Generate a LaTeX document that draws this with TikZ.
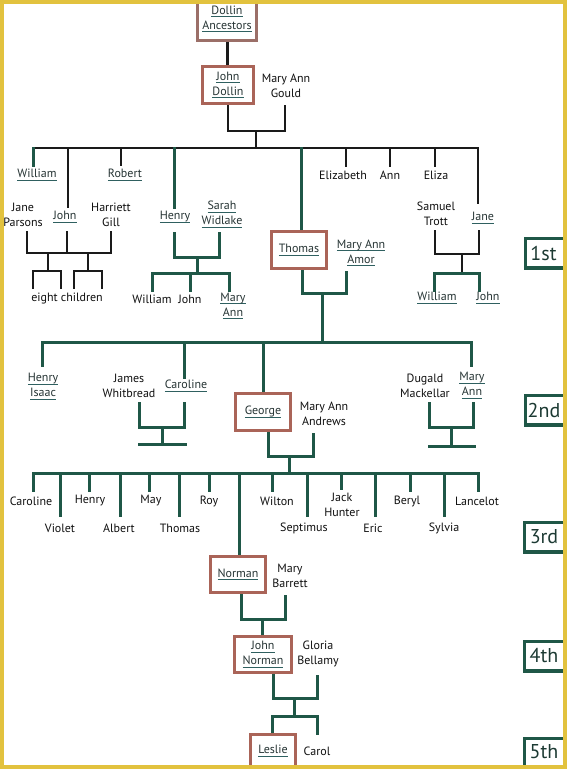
\documentclass[tikz,border=0pt]{standalone}
\usepackage{fontspec}
\setmainfont{PT Sans}
\definecolor{lblack}{HTML}{1A1A1A}
\definecolor{lgreen}{HTML}{1F5747}
\definecolor{boxc}{HTML}{AA6458}
\definecolor{boxa}{HTML}{9B6F68}
\definecolor{txt}{HTML}{101010}
\definecolor{nmtxt}{HTML}{263434}
\definecolor{ulc}{HTML}{2F6060}
\definecolor{gtxt}{HTML}{1C3A33}
\definecolor{frameyel}{HTML}{E2C23E}
\newcommand\ul[1]{\setbox0=\hbox{#1}\leavevmode\rlap{\color{ulc}\rule[-3.1pt]{\wd0}{1.1pt}}\box0}
\begin{document}
\begin{tikzpicture}[x=1pt,y=-1pt,
 blk/.style={draw=lblack,line width=2.5pt,line cap=rect},
 grn/.style={draw=lgreen,line width=3pt,line cap=rect},
 lbl/.style={font=\fontsize{12}{15}\selectfont,align=center,inner sep=0pt,text=txt},
 nm/.style={lbl,text=nmtxt},
 pbox/.style={draw=boxc,line width=3pt,fill=white,inner sep=0pt,align=center,font=\fontsize{12}{15}\selectfont,text=nmtxt},
 genfr/.style={draw=lgreen,line width=3.5pt,fill=white},
 genlbl/.style={font=\fontsize{20}{20}\selectfont,inner sep=0pt,text=gtxt}]
\useasboundingbox (0,0) rectangle (567,769);
\fill[white] (0,0) rectangle (567,769);

% ---------- level 0 lines
\draw[blk] (227.5,40) -- (227.5,65);
\draw[blk] (228,105) -- (228,131) -- (285,131) -- (285,106);
\draw[blk] (256,131) -- (256,148);
\draw[blk] (33,148) -- (478,148);
\draw[grn] (33,148) -- (33,165);
\draw[blk] (68,148) -- (68,207);
\draw[blk] (121,148) -- (121,165);
\draw[grn] (174,148) -- (174,207);
\draw[grn] (301,148) -- (301,230);
\draw[blk] (346,148) -- (346,166);
\draw[blk] (390,148) -- (390,166);
\draw[blk] (435,148) -- (435,166);
\draw[blk] (478,148) -- (478,203);

% John family
\draw[blk] (27,232) -- (27,253) -- (111,253) -- (111,232);
\draw[blk] (67,232) -- (67,253);
\draw[blk] (48,253) -- (48,271);
\draw[blk] (33,288) -- (33,271) -- (61,271) -- (61,288);
\draw[blk] (88,253) -- (88,271);
\draw[blk] (74,288) -- (74,271) -- (102,271) -- (102,288);

% Henry family
\draw[grn] (174,233) -- (174,257) -- (219,257) -- (219,233);
\draw[grn] (197,257) -- (197,273);
\draw[grn] (152,290) -- (152,273) -- (229,273) -- (229,290);
\draw[grn] (190,273) -- (190,290);

% Jane family
\draw[blk] (435,231) -- (435,254) -- (479,254) -- (479,231);
\draw[blk] (462,254) -- (462,273);
\draw[grn] (434,290) -- (434,273) -- (479,273) -- (479,290);

% Thomas couple and children
\draw[grn] (302,270) -- (302,293) -- (346,293) -- (346,272);
\draw[grn] (322,293) -- (322,342);
\draw[grn] (42,342) -- (471,342);
\draw[grn] (42,342) -- (42,365);
\draw[grn] (184,342) -- (184,377);
\draw[grn] (263,342) -- (263,392);
\draw[grn] (471,342) -- (471,365);
\draw[grn] (139,403) -- (139,427) -- (184,427) -- (184,403);
\draw[grn] (162,427) -- (162,444);
\draw[grn] (139,444) -- (185,444);
\draw[grn] (429,403) -- (429,427) -- (473,427) -- (473,403);
\draw[grn] (451,427) -- (451,446);
\draw[grn] (429,446) -- (474,446);

% George couple and children
\draw[grn] (268,432) -- (268,456) -- (313,456) -- (313,434);
\draw[grn] (289,456) -- (289,473);
\draw[grn] (33,473) -- (478,473);
\foreach \x in {33,89,149,209,272,410,478} \draw[grn] (\x,473) -- (\x,490);
\draw[grn] (341,473) -- (341,488);
\foreach \x in {60,120,179,307,375,444} \draw[grn] (\x,473) -- (\x,515);
\draw[grn] (239,473) -- (239,555);

% Norman
\draw[grn] (241,594) -- (241,619) -- (285,619) -- (285,596);
\draw[grn] (262,619) -- (262,635);
% John Norman
\draw[grn] (273,674) -- (273,698) -- (317,698) -- (317,676);
\draw[grn] (294,698) -- (294,716);
\draw[grn] (272,733) -- (272,716) -- (317,716) -- (317,733);

% ---------- boxes
\node[pbox,draw=boxa,minimum width=59pt,minimum height=42pt] (anc) at (227,19) {\ul{Dollin}\\\ul{Ancestors}};
\node[pbox,minimum width=51pt,minimum height=37pt] (jdol) at (228,85) {\ul{John}\\\ul{Dollin}};
\node[pbox,minimum width=55pt,minimum height=37pt] (thomas) at (299,250) {\ul{Thomas}};
\node[pbox,minimum width=55pt,minimum height=37pt] (george) at (263,412) {\ul{George}};
\node[pbox,minimum width=55pt,minimum height=36pt] (norman) at (238,574.5) {\ul{Norman}};
\node[pbox,minimum width=57pt,minimum height=36pt] (jnorm) at (263,654.5) {\ul{John}\\\ul{Norman}};
\node[pbox,minimum width=45pt,minimum height=40pt] (leslie) at (273,754) {};
\node[nm] (lesliet) at (273,751) {\ul{Leslie}};

% ---------- labels level 0/1
\node[lbl] (mag) at (286,85.5) {Mary Ann\\Gould};
\node[nm] (william1) at (37,175) {\ul{William}};
\node[nm] (robert) at (125,175) {\ul{Robert}};
\node[lbl] (eliz) at (343,175) {Elizabeth};
\node[lbl] (ann) at (390,175.5) {Ann};
\node[lbl] (eliza) at (436,175) {Eliza};
\node[lbl] (janep) at (23,214.5) {Jane\\Parsons};
\node[nm] (john1) at (65,217) {\ul{John}};
\node[lbl] (harr) at (111,214.5) {Harriett\\Gill};
\node[nm] (henry1) at (175,217) {\ul{Henry}};
\node[nm] (sarah) at (222,214.5) {\ul{Sarah}\\\ul{Widlake}};
\node[lbl] (samuel) at (436,213.5) {Samuel\\Trott};
\node[nm] (jane) at (483,218) {\ul{Jane}};
\node[nm] (maam) at (361,253) {\ul{Mary Ann}\\\ul{Amor}};
\node[lbl] (eight) at (67,299) {eight children};
\node[lbl] (williamh) at (152,299) {William};
\node[lbl] (johnh) at (190,299) {John};
\node[nm] (maryannh) at (233,306) {\ul{Mary}\\\ul{Ann}};
\node[nm] (williamj) at (437,298) {\ul{William}};
\node[nm] (johnj) at (488,298) {\ul{John}};

% level 2
\node[nm] (henryi) at (43,386.5) {\ul{Henry}\\\ul{Isaac}};
\node[lbl] (james) at (129,385.5) {James\\Whitbread};
\node[nm] (caroline2) at (186,386) {\ul{Caroline}};
\node[lbl] (maandr) at (324,414) {Mary Ann\\Andrews};
\node[lbl] (dugald) at (425,385.5) {Dugald\\Mackellar};
\node[nm] (maryann2) at (472,385.5) {\ul{Mary}\\\ul{Ann}};

% level 3
\node[lbl] (caroline3) at (31,501) {Caroline};
\node[lbl] (henry3) at (90,501) {Henry};
\node[lbl] (may) at (151,501) {May};
\node[lbl] (roy) at (209,501) {Roy};
\node[lbl] (wilton) at (277,501) {Wilton};
\node[lbl] (jack) at (342,504.5) {Jack\\Hunter};
\node[lbl] (beryl) at (407,501) {Beryl};
\node[lbl] (lancelot) at (477,501) {Lancelot};
\node[lbl] (violet) at (60,528) {Violet};
\node[lbl] (albert) at (119,528) {Albert};
\node[lbl] (thomas3) at (180,528) {Thomas};
\node[lbl] (septimus) at (304,528) {Septimus};
\node[lbl] (eric) at (373,528) {Eric};
\node[lbl] (sylvia) at (444,528) {Sylvia};

% level 4/5
\node[lbl] (mbarrett) at (290,575.5) {Mary\\Barrett};
\node[lbl] (gloria) at (318,653.5) {Gloria\\Bellamy};
\node[lbl] (carol) at (317,751) {Carol};

% ---------- generation boxes
\draw[genfr] (525.5,238.5) rectangle (575,268);
\node[genlbl] (g1) at (543.5,253) {1st};
\draw[genfr] (525.5,395.5) rectangle (575,425);
\node[genlbl] (g2) at (544,410) {2nd};
\draw[genfr] (524.5,522.5) rectangle (575,552);
\node[genlbl] (g3) at (544,537) {3rd};
\draw[genfr] (524.5,641.5) rectangle (575,671);
\node[genlbl] (g4) at (544,656) {4th};
\draw[genfr] (524.5,738.5) rectangle (575,780);
\node[genlbl] (g5) at (544,752) {5th};

% ---------- yellow frame
\draw[frameyel,line width=3.6pt] (1.8,1.8) rectangle (565.2,767.2);
\end{tikzpicture}
\end{document}
